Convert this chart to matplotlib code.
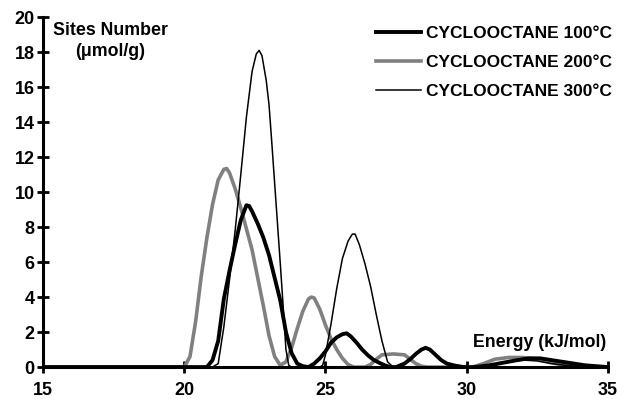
import matplotlib
matplotlib.use("Agg")
import matplotlib.pyplot as plt

plt.rcParams["font.family"] = ["Liberation Sans", "DejaVu Sans"]
plt.rcParams["font.weight"] = "bold"

# Site energy distribution, cyclooctane at three temperatures
energy_100 = [15.0, 20.8, 21.0, 21.2, 21.3, 21.4, 21.6, 21.8, 22.0, 22.2, 22.3, 22.4, 22.6,
              22.8, 23.0, 23.2, 23.4, 23.6, 23.8, 24.0, 24.2, 24.4, 24.6, 24.8, 25.0,
              25.2, 25.4, 25.6, 25.75, 25.9, 26.1, 26.3, 26.5, 26.7, 26.9, 27.1, 27.3,
              27.5, 27.8, 28.0, 28.2, 28.4, 28.55, 28.7, 28.9, 29.1, 29.3, 29.6, 29.9,
              30.3, 30.8, 31.3, 31.8, 32.2, 32.6, 33.0, 33.4, 33.8, 34.2, 34.6, 35.0]
sites_100 = [0.0, 0.0, 0.4, 1.5, 2.7, 3.9, 5.5, 7.0, 8.4, 9.25, 9.2, 8.9, 8.2,
             7.4, 6.4, 5.1, 3.8, 2.0, 0.8, 0.2, 0.05, 0.0, 0.2, 0.5, 0.9,
             1.4, 1.7, 1.88, 1.93, 1.75, 1.4, 1.0, 0.68, 0.42, 0.25, 0.1, 0.0,
             0.0, 0.2, 0.45, 0.75, 1.0, 1.1, 1.0, 0.7, 0.4, 0.2, 0.08, 0.0,
             0.0, 0.1, 0.25, 0.4, 0.5, 0.5, 0.4, 0.3, 0.2, 0.1, 0.05, 0.0]

energy_200 = [15.0, 20.0, 20.2, 20.4, 20.6, 20.8, 21.0, 21.2, 21.4, 21.5, 21.6, 21.8,
              22.0, 22.2, 22.4, 22.6, 22.8, 23.0, 23.2, 23.4, 23.6, 23.8, 24.0, 24.2,
              24.4, 24.5, 24.6, 24.8, 25.0, 25.2, 25.4, 25.6, 25.8, 26.0, 26.4, 26.6,
              26.8, 27.0, 27.4, 27.8, 28.0, 28.2, 28.4, 28.6, 30.2, 30.6, 31.0, 31.5,
              32.0, 32.5, 33.0, 33.5, 34.0, 35.0]
sites_200 = [0.0, 0.0, 0.6, 2.6, 5.2, 7.4, 9.3, 10.7, 11.3, 11.35, 11.1, 10.2,
             9.1, 7.9, 6.7, 5.1, 3.5, 1.8, 0.6, 0.1, 0.3, 1.1, 2.2, 3.2,
             3.9, 4.0, 3.95, 3.3, 2.4, 1.6, 1.0, 0.5, 0.15, 0.0, 0.0, 0.15,
             0.45, 0.7, 0.75, 0.7, 0.45, 0.2, 0.05, 0.0, 0.0, 0.2, 0.45, 0.55,
             0.55, 0.45, 0.25, 0.1, 0.0, 0.0]

energy_300 = [15.0, 21.0, 21.2, 21.4, 21.6, 21.8, 22.0, 22.2, 22.4, 22.55, 22.65, 22.75,
              22.9, 23.0, 23.1, 23.2, 23.3, 23.4, 23.5, 23.6, 23.7, 23.8, 24.8, 24.9,
              25.0, 25.2, 25.4, 25.6, 25.8, 25.95, 26.05, 26.2, 26.4, 26.6, 26.8, 27.0,
              27.2, 27.4, 30.5, 31.0, 31.5, 32.0, 32.5, 33.0, 33.5, 34.0, 35.0]
sites_300 = [0.0, 0.0, 0.2, 2.3, 5.0, 7.8, 11.0, 14.3, 16.9, 17.9, 18.1, 17.8,
             16.4, 15.0, 12.8, 10.5, 8.2, 5.9, 3.5, 1.0, 0.1, 0.0, 0.0, 0.1,
             0.7, 2.5, 4.5, 6.2, 7.2, 7.6, 7.6, 7.0, 5.9, 4.6, 3.0, 1.5,
             0.3, 0.0, 0.0, 0.15, 0.3, 0.4, 0.35, 0.2, 0.1, 0.05, 0.0]

labels = ["CYCLOOCTANE 100\u00b0C", "CYCLOOCTANE 200\u00b0C", "CYCLOOCTANE 300\u00b0C"]

fig = plt.figure(figsize=(6.17, 3.99), dpi=100)
ax = fig.add_axes([0.070, 0.080, 0.915, 0.877])

ax.plot(energy_100, sites_100, color="black", lw=2.8, label=labels[0], zorder=3,
        solid_joinstyle="round")
ax.plot(energy_200, sites_200, color="#808080", lw=2.6, label=labels[1], zorder=2,
        solid_joinstyle="round")
ax.plot(energy_300, sites_300, color="black", lw=1.1, label=labels[2], zorder=4,
        solid_joinstyle="round")

ax.set_xlim(15, 35)
ax.set_ylim(0, 20)
ax.set_xticks([15, 20, 25, 30, 35])
ax.set_yticks(range(0, 21, 2))

for s in ["top", "right"]:
    ax.spines[s].set_visible(False)
for s in ["left", "bottom"]:
    ax.spines[s].set_linewidth(2.2)
ax.tick_params(direction="inout", length=8, width=2, labelsize=13)
ax.tick_params(axis="y", pad=2)
ax.tick_params(axis="x", pad=7)
for lab in ax.get_xticklabels() + ax.get_yticklabels():
    lab.set_fontweight("bold")

ax.text(0.119, 0.932, "Sites Number\n(\u03bcmol/g)", transform=ax.transAxes,
        ha="center", va="center", fontsize=12.8, fontweight="bold", linespacing=1.3)
ax.text(0.9975, 0.071, "Energy (kJ/mol)", transform=ax.transAxes,
        ha="right", va="center", fontsize=12.8, fontweight="bold")

ax.legend(loc="upper right", bbox_to_anchor=(1.02, 0.996), frameon=False,
          borderaxespad=0, handlelength=2.6, handletextpad=0.3, labelspacing=0.82,
          prop={"weight": "bold", "size": 12.5})

fig.savefig("out.png", dpi=100)
